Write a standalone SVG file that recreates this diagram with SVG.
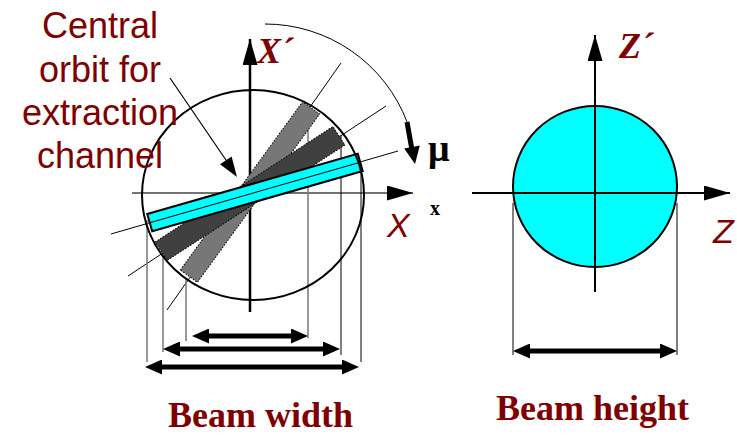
<svg xmlns="http://www.w3.org/2000/svg" width="737" height="435" viewBox="0 0 737 435">
<style>
.lbl{fill:#800000;font-family:"Liberation Sans",Arial,sans-serif;font-size:36px}
.ax{fill:#800000;font-family:"Liberation Serif","Times New Roman",serif;font-weight:bold;font-style:italic;font-size:36px}
.axs{fill:#800000;font-family:"Liberation Sans",Arial,sans-serif;font-style:italic;font-size:34px}
.cap{fill:#800000;font-family:"Liberation Serif","Times New Roman",serif;font-weight:bold;font-size:36px}
.blk{fill:#000;font-family:"Liberation Serif","Times New Roman",serif;font-weight:bold}
.thin{stroke:#000;stroke-width:1;fill:none}
.proj{stroke:#777;stroke-width:1.5;fill:none}
.projk{stroke:#000;stroke-width:1;fill:none}
.dim{stroke:#000;stroke-width:5;fill:none;marker-start:url(#dh);marker-end:url(#dh)}
.bar{stroke:#000;stroke-width:1;stroke-dasharray:1.5 1.5}
</style>
<defs>
<marker id="ah" viewBox="0 0 26 15" refX="26" refY="7.5" markerWidth="26" markerHeight="15" markerUnits="userSpaceOnUse" orient="auto"><path d="M0,0 L26,7.5 L0,15 z" fill="#000"/></marker>
<marker id="dh" viewBox="0 0 17 15" refX="5" refY="7.5" markerWidth="17" markerHeight="15" markerUnits="userSpaceOnUse" orient="auto-start-reverse"><path d="M0,0 L17,7.5 L0,15 z" fill="#000"/></marker>
</defs>

<g id="left-phase-space">
  <ellipse cx="253" cy="195" rx="111" ry="105" fill="#fff" stroke="none"/>
  <line class="thin" x1="167" y1="310" x2="341" y2="63"/>
  <line class="thin" x1="128" y1="276" x2="386" y2="106"/>
  <line class="thin" x1="111" y1="234" x2="398" y2="151"/>
  <line x1="132" y1="193" x2="413" y2="193" stroke="#444" stroke-width="1.6" marker-end="url(#ah)"/>
  <line x1="250" y1="312" x2="250" y2="39" stroke="#000" stroke-width="2.5" marker-end="url(#ah)"/>
  <line class="proj" x1="147" y1="220" x2="147" y2="362"/>
  <line class="proj" x1="163" y1="255" x2="163" y2="352"/>
  <line class="proj" x1="186" y1="278" x2="186" y2="341"/>
  <line class="proj" x1="308" y1="110" x2="308" y2="338"/>
  <line class="projk" x1="341" y1="135" x2="341" y2="355"/>
  <line class="projk" x1="361" y1="165" x2="361" y2="362"/>
  <rect class="bar" x="-104" y="-10.5" width="208" height="21" fill="#777" transform="translate(250,192) rotate(-54)"/>
  <rect class="bar" x="-106" y="-11" width="212" height="22" fill="#404040" transform="translate(250,193.5) rotate(-33)"/>
  <rect x="-109.5" y="-9" width="219" height="18" fill="#00ffff" stroke="#000" stroke-width="2" transform="translate(255,192.5) rotate(-16)"/>
  <line class="thin" x1="-109.5" y1="0" x2="109.5" y2="0" transform="translate(255,192.5) rotate(-16)"/>
  <ellipse cx="253" cy="195" rx="111" ry="105" fill="none" stroke="#000" stroke-width="2"/>
</g>

<g id="mu-rotation">
  <path class="thin" d="M265,24 A152,152 0 0 1 407,121.8"/>
  <line x1="407" y1="122" x2="412" y2="150" stroke="#000" stroke-width="5"/>
  <polygon points="404.2,148.4 419.8,145.6 415,164" fill="#000"/>
  <text class="blk" x="428" y="161" font-size="38">μ</text>
</g>

<g id="label-central-orbit">
  <text class="lbl" text-anchor="middle" x="100" y="38">Central</text>
  <text class="lbl" text-anchor="middle" x="100" y="82">orbit for</text>
  <text class="lbl" text-anchor="middle" x="100" y="125">extraction</text>
  <text class="lbl" text-anchor="middle" x="100" y="168">channel</text>
  <line x1="170" y1="78" x2="228" y2="163" stroke="#000" stroke-width="1.2"/>
  <polygon points="231.6,156.5 220,164.3 237,177" fill="#000"/>
</g>

<g id="left-labels">
  <text class="ax" x="257" y="63">X´</text>
  <text class="axs" x="387" y="237">X</text>
  <text class="blk" x="430" y="215" font-size="20">x</text>
</g>

<g id="right-phase-space">
  <ellipse cx="595" cy="186.5" rx="82" ry="80.5" fill="#00ffff" stroke="#000" stroke-width="2"/>
  <line x1="472" y1="193" x2="730" y2="193" stroke="#000" stroke-width="2" marker-end="url(#ah)"/>
  <line x1="595" y1="292" x2="595" y2="35" stroke="#000" stroke-width="2" marker-end="url(#ah)"/>
  <line class="projk" x1="513" y1="203" x2="513" y2="355"/>
  <line class="projk" x1="677" y1="203" x2="677" y2="355"/>
  <text class="ax" x="619" y="58">Z´</text>
  <text class="axs" x="713" y="243">Z</text>
</g>

<g id="connectors">
  <line class="dim" x1="204" y1="336" x2="296" y2="336"/>
  <line class="dim" x1="175" y1="349" x2="328" y2="349"/>
  <line class="dim" x1="157" y1="367" x2="347" y2="367"/>
  <line class="dim" x1="525" y1="351" x2="665" y2="351"/>
</g>

<g id="captions">
  <text class="cap" x="168" y="427">Beam width</text>
  <text class="cap" x="496" y="420">Beam height</text>
</g>
</svg>
